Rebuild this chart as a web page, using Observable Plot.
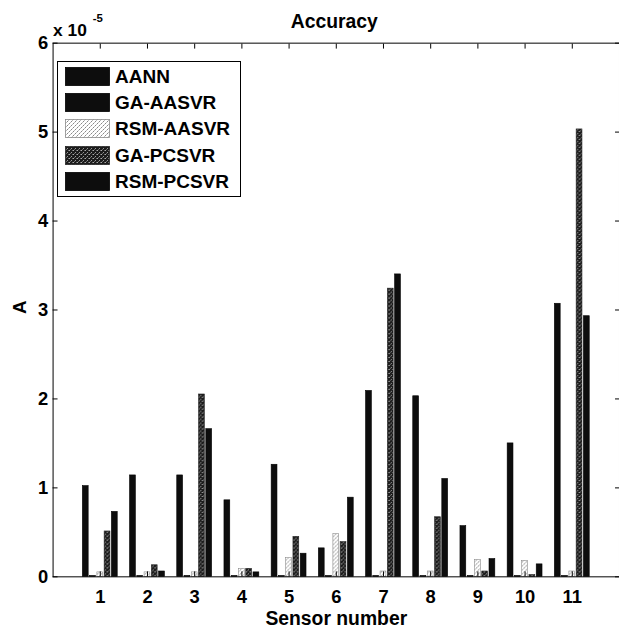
<!DOCTYPE html>
<html><head><meta charset="utf-8">
<script src="https://cdn.jsdelivr.net/npm/d3@7"></script>
<script src="https://cdn.jsdelivr.net/npm/@observablehq/plot@0.6"></script>
<style>
body{margin:0;background:#fff;}
#wrap{position:relative;width:619px;height:628px;overflow:hidden;font-family:"Liberation Sans",Arial,sans-serif;background:#fff;}
#legend{position:absolute;left:57px;top:61px;width:184px;height:136px;border:1px solid #000;background:#fff;box-sizing:border-box;}
.row{position:absolute;left:7px;height:19px;display:flex;align-items:center;white-space:nowrap;}
.row span{font-weight:bold;font-size:19px;margin-left:5px;color:#000;line-height:19px;}
</style></head><body>
<svg width="0" height="0" style="position:absolute"><defs>
<pattern id="lightPat" width="4" height="4" patternUnits="userSpaceOnUse">
 <rect width="4" height="4" fill="#fff"/>
 <rect x="0" y="0" width="1" height="1" fill="#888"/>
 <rect x="2" y="2" width="1" height="1" fill="#888"/>
 <rect x="3" y="1" width="1" height="1" fill="#bbb"/>
 <rect x="1" y="3" width="1" height="1" fill="#bbb"/>
</pattern>
<pattern id="darkPat" width="4" height="4" patternUnits="userSpaceOnUse">
 <rect width="4" height="4" fill="#1c1c1c"/>
 <rect x="0" y="0" width="1" height="1" fill="#aaa"/>
 <rect x="2" y="2" width="1" height="1" fill="#999"/>
 <rect x="3" y="0" width="1" height="1" fill="#666"/>
 <rect x="1" y="3" width="1" height="1" fill="#666"/>
</pattern>
</defs></svg>
<div id="wrap"><div id="chart"></div><div id="legend"></div></div>
<script>
// Values in units of 1e-5
const sensors = [1,2,3,4,5,6,7,8,9,10,11];
const seriesNames = ["AANN","GA-AASVR","RSM-AASVR","GA-PCSVR","RSM-PCSVR"];
const aann     = [1.02,1.14,1.14,0.86,1.26,0.32,2.09,2.03,0.57,1.50,3.07];
const gaAasvr  = [0.01,0.01,0.01,0.01,0.01,0.01,0.01,0.01,0.01,0.01,0.01];
const rsmAasvr = [0.05,0.05,0.05,0.09,0.21,0.48,0.06,0.06,0.19,0.18,0.06];
const gaPcsvr  = [0.51,0.13,2.05,0.09,0.45,0.39,3.24,0.67,0.06,0.02,5.03];
const rsmPcsvr = [0.73,0.06,1.66,0.05,0.26,0.89,3.40,1.10,0.20,0.14,2.93];
const yTicks = [0,1,2,3,4,5,6];
const titleText = "Accuracy";
const xLabel = "Sensor number";
const yLabel = "A";

const seriesValues = [aann, gaAasvr, rsmAasvr, gaPcsvr, rsmPcsvr];
const fills = ["#0d0d0d","#0d0d0d","url(#lightPat)","url(#darkPat)","#0d0d0d"];
const strokes = ["#000","#000","#8a8a8a","#222","#000"];

const rows = seriesNames.flatMap((name, k) =>
  sensors.map((s, i) => ({sensor: s, series: name, k, value: seriesValues[k][i]})));

const groupWidth = 5 / 6.5;
const step = groupWidth / 5;
const bw = step * 0.8;

const font = '"Liberation Sans", Arial, sans-serif';
const chart = Plot.plot({
  width: 624, height: 628,
  marginLeft: 53, marginRight: 0, marginTop: 43, marginBottom: 47,
  x: {domain: [0, 12]},
  y: {domain: [0, 6]},
  style: {fontFamily: font, fontWeight: "bold", background: "transparent", color: "#000", overflow: "visible"},
  marks: [
    ...seriesNames.map((name, k) => Plot.rect(rows.filter(d => d.k === k), {
      x1: d => d.sensor + (d.k - 2) * step - bw / 2,
      x2: d => d.sensor + (d.k - 2) * step + bw / 2,
      y1: d => 0, y2: "value",
      fill: fills[k], stroke: strokes[k], strokeWidth: 0.6
    })),
    Plot.frame({stroke: "#000", strokeWidth: 1}),
    Plot.axisY({anchor: "left", ticks: yTicks, tickSize: 0, tickPadding: 5, tickFormat: d => String(d), fontSize: 18.5, label: null}),
    Plot.axisY({anchor: "left", ticks: yTicks, tickSize: -5, tickFormat: () => "", label: null}),
    Plot.axisY({anchor: "right", ticks: yTicks, tickSize: -5, tickFormat: () => "", label: null}),
    Plot.axisX({anchor: "bottom", ticks: sensors, tickSize: 0, tickPadding: 13, tickFormat: d => String(d), fontSize: 18.5, label: null}),
    Plot.axisX({anchor: "bottom", ticks: sensors, tickSize: -5, tickFormat: () => "", label: null}),
    Plot.axisX({anchor: "top", ticks: sensors, tickSize: -5, tickFormat: () => "", label: null}),
    Plot.text([titleText], {frameAnchor: "top", dx: -2, dy: -29, fontSize: 19.5, fontWeight: "bold"}),
    Plot.text([xLabel], {frameAnchor: "bottom", dy: 49, fontSize: 19.5, fontWeight: "bold"}),
    Plot.text([yLabel], {frameAnchor: "left", dx: -33, dy: 4, rotate: -90, fontSize: 19, fontWeight: "bold"}),
    Plot.text(["x 10"], {frameAnchor: "top-left", textAnchor: "start", lineAnchor: "bottom", dy: -7, fontSize: 17.5, fontWeight: "bold"}),
    Plot.text(["-5"], {frameAnchor: "top-left", textAnchor: "start", lineAnchor: "bottom", dx: 40, dy: -21, fontSize: 11.5, fontWeight: "bold"})
  ]
});
document.getElementById("chart").appendChild(chart);

const legend = document.getElementById("legend");
seriesNames.forEach((name, k) => {
  const row = document.createElement("div");
  row.className = "row";
  row.style.top = (5 + k * 26.2) + "px";
  row.innerHTML = `<svg width="45" height="19"><rect x="0.5" y="0.5" width="44" height="18" fill="${fills[k]}" stroke="${strokes[k]}" stroke-width="0.8"/></svg><span>${name}</span>`;
  legend.appendChild(row);
});
</script>
</body></html>
